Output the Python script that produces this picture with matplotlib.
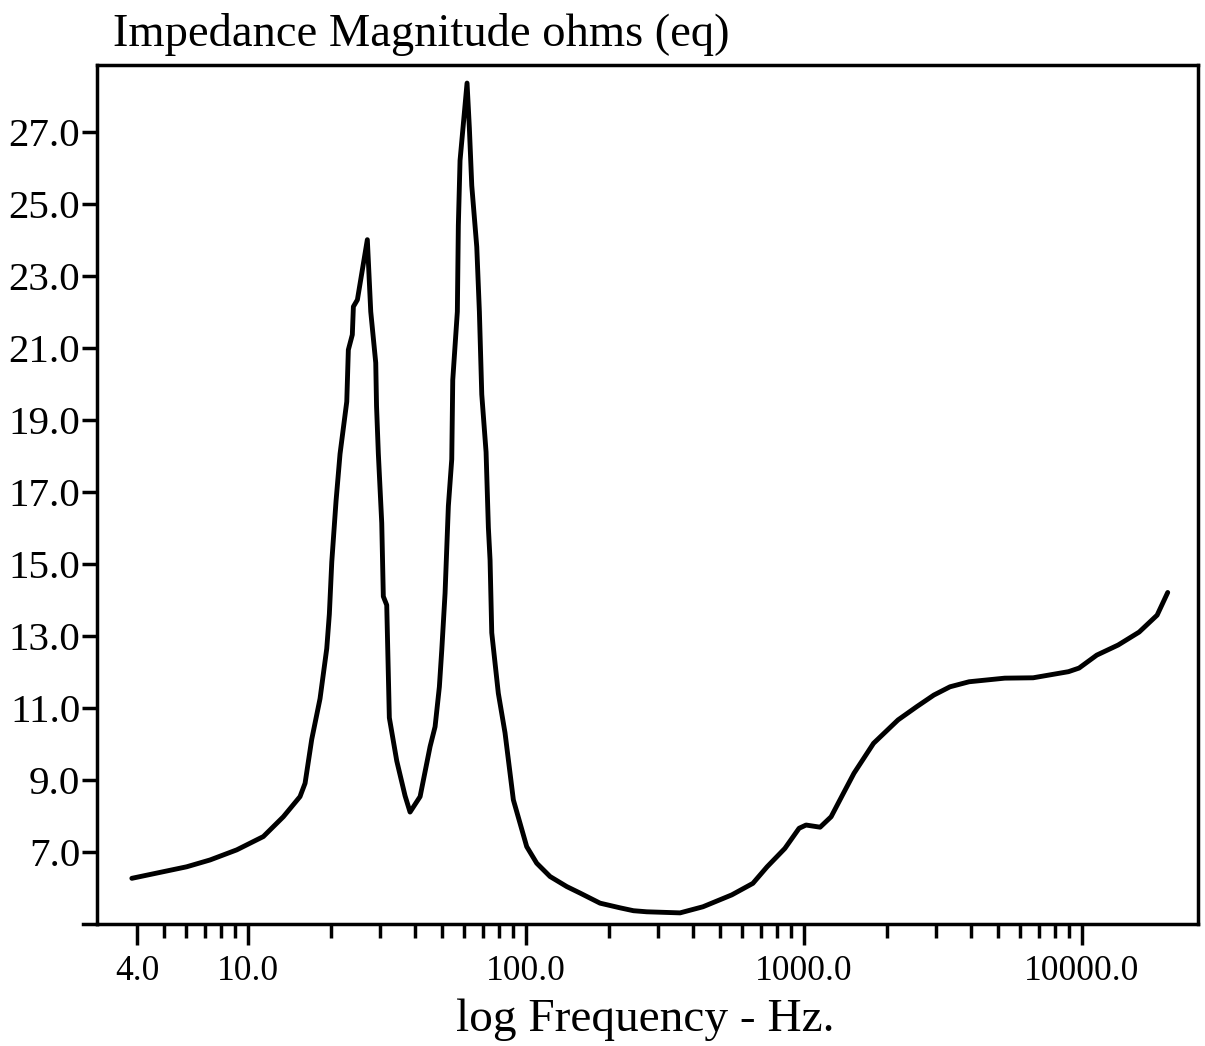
import numpy as np
import matplotlib
matplotlib.use("Agg")
import matplotlib.pyplot as plt
from matplotlib.lines import Line2D

# impedance curve (Hz, ohms)
freq = [3.83, 6.03, 7.32, 9.13, 11.38, 13.43, 15.42, 16.08, 16.99, 18.20,
        19.24, 19.66, 20.06, 20.78, 21.48, 22.71, 23.01, 23.78, 23.99, 24.80,
        26.93, 27.70, 28.87, 29.06, 29.50, 30.34, 30.74, 31.62, 32.31, 34.36,
        36.81, 38.36, 41.69, 45.28, 47.19, 48.90, 49.88, 51.26, 52.68, 54.18,
        54.63, 56.75, 57.22, 58.03, 61.50, 62.69, 63.95, 66.65, 68.11, 69.47,
        71.99, 73.38, 74.41, 75.46, 79.68, 84.23, 90.24, 100.8, 109.5, 122.3,
        140.5, 156.8, 185, 218.4, 244, 272.4, 358.9, 434, 551, 656,
        738, 855, 962, 1019, 1145, 1254, 1388, 1516, 1782, 2183,
        2551, 2936, 3357, 3933, 5283, 6683, 8956, 9776, 11320, 13510,
        16080, 18660, 20370]
ohms = [6.26, 6.58, 6.77, 7.05, 7.42, 7.97, 8.53, 8.9, 10.12, 11.25,
        12.64, 13.6, 15.05, 16.74, 18.05, 19.5, 20.94, 21.36, 22.14, 22.33,
        24.0, 22.0, 20.58, 19.38, 18.05, 16.13, 14.09, 13.85, 10.72, 9.52,
        8.55, 8.1, 8.53, 9.92, 10.47, 11.58, 12.6, 14.18, 16.6, 17.9,
        20.1, 22.0, 24.4, 26.2, 28.35, 27.1, 25.5, 23.8, 22.0, 19.7,
        18.1, 16.0, 15.1, 13.08, 11.4, 10.3, 8.44, 7.14, 6.68, 6.31,
        6.03, 5.85, 5.57, 5.44, 5.36, 5.33, 5.30, 5.47, 5.8, 6.12,
        6.58, 7.09, 7.65, 7.74, 7.68, 7.97, 8.62, 9.18, 10.01, 10.66,
        11.03, 11.35, 11.58, 11.72, 11.82, 11.83, 12.0, 12.1, 12.46, 12.74,
        13.1, 13.57, 14.2]

x_major = [4, 10, 100, 1000, 10000]
x_labels = ["4.0", "10.0", "100.0", "1000.0", "10000.0"]
x_minor = [5, 6, 7, 8, 9, 20, 30, 40, 50, 60, 70, 80, 90,
           200, 300, 400, 500, 600, 700, 800, 900,
           2000, 3000, 4000, 5000, 6000, 7000, 8000, 9000]
y_ticks = [7, 9, 11, 13, 15, 17, 19, 21, 23, 25, 27]

plt.rcParams['font.family'] = ['Liberation Serif', 'DejaVu Serif']

fig = plt.figure(figsize=(12.05, 10.46), dpi=100)
ax = fig.add_axes([0.0805, 0.1166, 0.9137, 0.8212])

ax.plot(freq, ohms, color='black', lw=3.5, solid_joinstyle='round', solid_capstyle='round')

ax.set_xscale('log')
ax.set_xlim(2.87, 26180)
ax.set_ylim(4.99, 28.85)

ax.set_xticks(x_major)
ax.set_xticklabels(x_labels)
ax.set_xticks(x_minor, minor=True)
ax.xaxis.set_minor_formatter(matplotlib.ticker.NullFormatter())
ax.set_yticks(y_ticks)
ax.set_yticklabels([f"{v:.1f}" for v in y_ticks])

ax.tick_params(axis='x', which='major', direction='out', length=15, width=2.5, labelsize=25.5, pad=7)
ax.tick_params(axis='x', which='minor', direction='out', length=10, width=2.5)
ax.tick_params(axis='y', direction='out', length=11, width=2.5, labelsize=29.5, pad=1)

for s in ax.spines.values():
    s.set_linewidth(2.5)

# bottom axis sticks out a bit to the left
ax.add_line(Line2D([-0.013, 0], [0, 0], transform=ax.transAxes, color='black', lw=2.5, clip_on=False))

fig.text(113 / 1205, 1 - 46 / 1046, "Impedance Magnitude ohms (eq)", fontsize=33.5, ha='left', va='baseline')
fig.text(645 / 1205, 1 - 1031 / 1046, "log Frequency - Hz.", fontsize=34, ha='center', va='baseline')

fig.savefig("out.png", dpi=100)
